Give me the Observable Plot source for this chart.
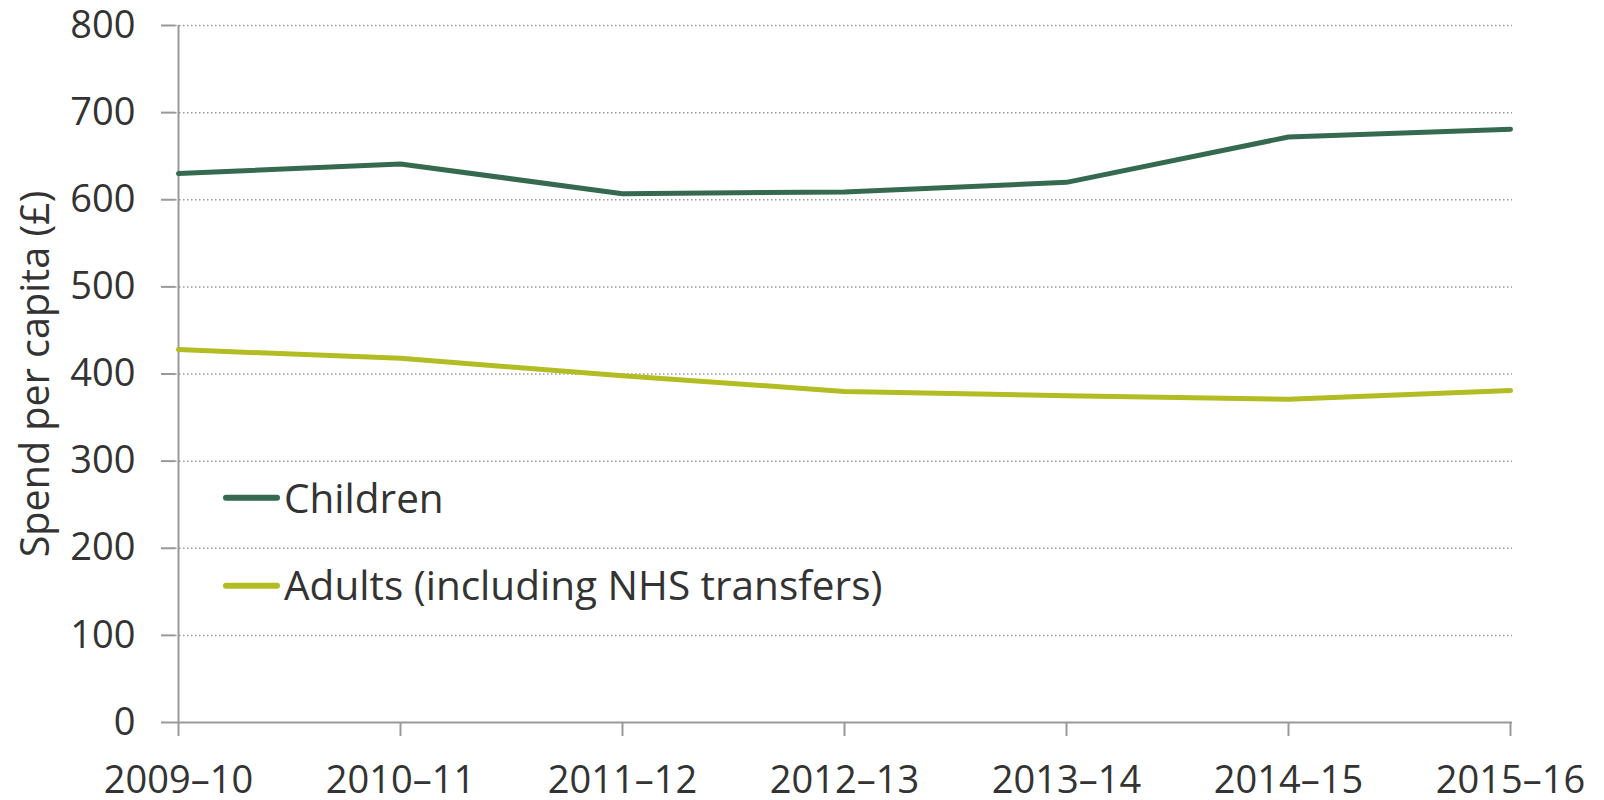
<!DOCTYPE html>
<html>
<head>
<meta charset="utf-8">
<script src="https://cdn.jsdelivr.net/npm/d3@7"></script>
<script src="https://cdn.jsdelivr.net/npm/@observablehq/plot@0.6"></script>
<style>
  html, body { margin: 0; padding: 0; background: #fff; }
  #wrap { position: relative; width: 1604px; height: 800px; font-family: "Open Sans", sans-serif; color: #333; }
  #chart svg { display: block; }
  #ylabel { position: absolute; left: 35px; top: 374px; transform: translate(-50%, -50%) rotate(-90deg); white-space: nowrap; font-size: 39.5px; line-height: 1; color: #333; }
  .leg { position: absolute; left: 223px; display: flex; align-items: center; transform: translateY(-50%); font-size: 40.5px; line-height: 1.2; color: #333; white-space: nowrap; }
  .leg .sw { width: 57px; height: 6px; border-radius: 3px; margin-right: 4px; }
</style>
</head>
<body>
<div id="wrap">
  <div id="chart"></div>
  <div id="ylabel">Spend per capita (£)</div>
  <div class="leg" id="leg1"><span class="sw" style="background:#356a50"></span><span>Children</span></div>
  <div class="leg" id="leg2"><span class="sw" style="background:#b1bd22"></span><span>Adults (including NHS transfers)</span></div>
</div>
<script>
const years = ["2009–10", "2010–11", "2011–12", "2012–13", "2013–14", "2014–15", "2015–16"];
const children = [630, 641, 607, 609, 620, 672, 681];
const adults = [428, 418, 398, 380, 375, 371, 381];
const yTicks = [0, 100, 200, 300, 400, 500, 600, 700, 800];
const seriesNames = ["Children", "Adults (including NHS transfers)"];
const seriesColors = ["#356a50", "#b1bd22"];

const rows = [];
years.forEach((y, i) => {
  rows.push({year: y, value: children[i], series: seriesNames[0]});
  rows.push({year: y, value: adults[i], series: seriesNames[1]});
});

const chart = Plot.plot({
  width: 1604,
  height: 800,
  marginLeft: 175,
  marginRight: 92,
  marginTop: 25,
  marginBottom: 78,
  style: {fontFamily: "Open Sans", fontSize: "38px", color: "#333", background: "#fff"},
  x: {type: "point", domain: years, padding: 0, label: null},
  y: {domain: [0, 800], label: null},
  color: {domain: seriesNames, range: seriesColors},
  marks: [
    Plot.ruleY(yTicks.filter(d => d > 0), {stroke: "#999", strokeWidth: 1.5, strokeDasharray: "1.5,2.5"}),
    Plot.ruleX([years[0]], {stroke: "#999", strokeWidth: 2}),
    Plot.ruleY([0], {stroke: "#999", strokeWidth: 2}),
    Plot.axisY({ticks: yTicks, tickSize: 14, tickPadding: 26, stroke: "#999", fill: "#333", strokeWidth: 2, fontSize: 38, label: null, tickFormat: d => String(d)}),
    Plot.axisX({tickSize: 14, tickPadding: 30, stroke: "#999", fill: "#333", strokeWidth: 2, fontSize: 38, label: null}),
    Plot.line(rows, {x: "year", y: "value", z: "series", stroke: "series", strokeWidth: 5, strokeLinecap: "round", strokeLinejoin: "round"})
  ]
});
document.getElementById("chart").appendChild(chart);

// legend rows sit between gridlines; vertical position from the chart's own y scale
const ys = chart.scale("y");
document.getElementById("leg1").style.top = ys.apply(257) + "px";
document.getElementById("leg2").style.top = ys.apply(157) + "px";
</script>
</body>
</html>
